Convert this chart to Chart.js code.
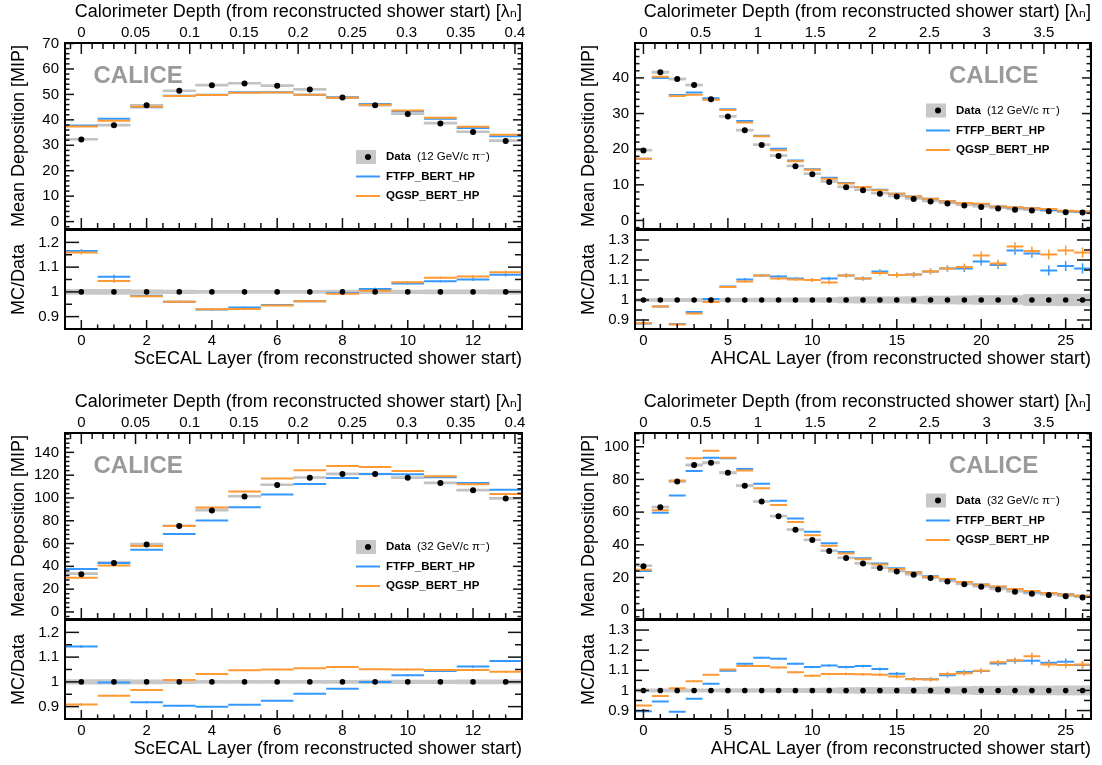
<!DOCTYPE html>
<html><head><meta charset="utf-8"><title>CALICE longitudinal profiles</title>
<script src="https://cdn.jsdelivr.net/npm/chart.js@4.4.1/dist/chart.umd.min.js"></script>
<style>
html,body{margin:0;padding:0;background:#fff;overflow:hidden;}
#root{position:relative;width:1102px;height:765px;overflow:hidden;background:#fff;}
canvas{position:absolute;display:block;}
</style></head><body><div id="root"></div>
<script>
// ---------------- data ----------------
const ecalLayers = [0,1,2,3,4,5,6,7,8,9,10,11,12,13];
const ahcalLayers = [0,1,2,3,4,5,6,7,8,9,10,11,12,13,14,15,16,17,18,19,20,21,22,23,24,25,26];

const ecalDepthTicks = [0,0.05,0.1,0.15,0.2,0.25,0.3,0.35,0.4];
const ahcalDepthTicks = [0,0.5,1,1.5,2,2.5,3,3.5];
const ecalLayerTicks = [0,2,4,6,8,10,12];
const ahcalLayerTicks = [0,5,10,15,20,25];
const ecal12YTicks = [0,10,20,30,40,50,60,70];
const ahcal12YTicks = [0,10,20,30,40];
const ecal32YTicks = [0,20,40,60,80,100,120,140];
const ahcal32YTicks = [0,20,40,60,80,100];
const ecalRatioTicks = [0.9,1,1.1,1.2];
const ahcalRatioTicks = [0.9,1,1.1,1.2,1.3];

// ScECAL, 12 GeV
const ecal12Data = [32.3, 37.9, 45.7, 51.4, 53.6, 54.3, 53.4, 51.9, 48.8, 45.7, 42.3, 38.6, 35.2, 31.7];
const ecal12Ftfp = [37.8, 40.4, 44.9, 49.5, 49.9, 50.8, 50.8, 49.9, 48.8, 46.2, 43.4, 40.4, 36.8, 33.6];
const ecal12Qgsp = [37.4, 39.6, 45.1, 49.4, 49.8, 50.6, 50.7, 49.9, 48.7, 45.9, 43.7, 40.8, 37.3, 34.1];
const ecal12RatioFtfp = [1.165, 1.061, 0.984, 0.960, 0.929, 0.937, 0.947, 0.962, 0.995, 1.012, 1.034, 1.043, 1.050, 1.069];
const ecal12RatioQgsp = [1.159, 1.044, 0.982, 0.960, 0.930, 0.931, 0.945, 0.962, 0.992, 1.005, 1.039, 1.057, 1.062, 1.079];
const ecal12RatioErr = [0.008, 0.008, 0.005, 0.004, 0.004, 0.004, 0.004, 0.004, 0.004, 0.005, 0.005, 0.005, 0.006, 0.007];
const ecal12Sys = [0.010, 0.010, 0.008, 0.007, 0.006, 0.006, 0.006, 0.006, 0.007, 0.007, 0.007, 0.008, 0.008, 0.009];

// AHCAL, 12 GeV
const ahcal12Data = [19.6, 41.6, 39.7, 38.0, 34.0, 29.2, 25.3, 21.2, 18.1, 15.2, 13.0, 10.8, 9.3, 8.5, 7.5, 6.7, 6.0, 5.3, 4.75, 4.2, 3.8, 3.35, 3.0, 2.8, 2.6, 2.3, 2.2];
const ahcal12Ftfp = [17.3, 40.0, 35.2, 35.9, 34.3, 31.2, 27.9, 23.8, 20.1, 16.8, 14.4, 12.0, 10.5, 9.4, 8.6, 7.5, 6.7, 6.1, 5.4, 4.9, 4.6, 3.9, 3.6, 3.4, 2.9, 2.6, 2.45];
const ahcal12Qgsp = [17.3, 40.3, 34.9, 35.3, 33.9, 31.0, 27.5, 23.6, 19.7, 16.6, 14.2, 11.7, 10.4, 9.4, 8.5, 7.5, 6.7, 6.1, 5.4, 4.9, 4.7, 3.9, 3.7, 3.4, 3.2, 2.7, 2.6];
const ahcal12RatioFtfp = [0.882, 0.967, 0.880, 0.940, 1.005, 1.067, 1.103, 1.123, 1.117, 1.107, 1.100, 1.107, 1.122, 1.107, 1.142, 1.125, 1.127, 1.143, 1.157, 1.157, 1.193, 1.175, 1.248, 1.233, 1.148, 1.170, 1.158];
const ahcal12RatioQgsp = [0.884, 0.968, 0.877, 0.932, 0.990, 1.065, 1.093, 1.123, 1.107, 1.103, 1.100, 1.088, 1.122, 1.107, 1.135, 1.125, 1.127, 1.143, 1.157, 1.165, 1.223, 1.182, 1.267, 1.245, 1.228, 1.247, 1.237];
const ahcal12RatioErr = [0.004, 0.004, 0.005, 0.005, 0.006, 0.006, 0.007, 0.007, 0.008, 0.008, 0.009, 0.009, 0.010, 0.010, 0.012, 0.012, 0.013, 0.014, 0.015, 0.017, 0.020, 0.020, 0.022, 0.022, 0.025, 0.025, 0.026];
const ahcal12Sys = [0.008, 0.008, 0.008, 0.008, 0.008, 0.009, 0.009, 0.010, 0.010, 0.011, 0.011, 0.012, 0.015, 0.016, 0.016, 0.016, 0.017, 0.020, 0.020, 0.021, 0.022, 0.022, 0.022, 0.028, 0.028, 0.029, 0.029];

// ScECAL, 32 GeV
const ecal32Data = [33.0, 42.9, 59.2, 75.3, 89.0, 101.2, 111.4, 117.8, 121.0, 121.0, 117.8, 113.2, 106.8, 99.5];
const ecal32Ftfp = [37.6, 42.9, 54.5, 68.3, 80.2, 91.9, 103.0, 112.3, 117.5, 121.0, 120.8, 118.1, 113.2, 107.3];
const ecal32Qgsp = [30.0, 40.8, 57.8, 75.5, 91.6, 105.6, 117.0, 124.3, 128.0, 127.2, 123.7, 119.0, 112.0, 103.5];
const ecal32RatioFtfp = [1.143, 0.997, 0.918, 0.904, 0.900, 0.908, 0.924, 0.952, 0.972, 1.000, 1.027, 1.044, 1.062, 1.084];
const ecal32RatioQgsp = [0.909, 0.944, 0.967, 1.008, 1.032, 1.047, 1.050, 1.055, 1.060, 1.051, 1.050, 1.048, 1.048, 1.041];
const ecal32RatioErr = [0.006, 0.005, 0.004, 0.003, 0.003, 0.003, 0.003, 0.003, 0.003, 0.003, 0.004, 0.004, 0.005, 0.005];
const ecal32Sys = [0.009, 0.009, 0.008, 0.007, 0.006, 0.006, 0.006, 0.006, 0.006, 0.007, 0.007, 0.007, 0.008, 0.008];

// AHCAL, 32 GeV
const ahcal32Data = [26.8, 63.0, 78.7, 88.8, 90.2, 84.1, 76.2, 66.5, 57.5, 49.2, 42.9, 36.2, 31.9, 28.5, 25.8, 23.6, 21.7, 19.7, 17.6, 15.8, 14.3, 12.7, 11.2, 10.0, 9.3, 8.5, 7.8];
const ahcal32Ftfp = [24.0, 59.6, 70.1, 85.2, 93.3, 92.9, 86.4, 77.4, 66.9, 56.1, 48.0, 40.9, 35.6, 31.7, 28.5, 25.6, 23.2, 20.7, 18.9, 17.3, 15.7, 14.4, 12.9, 11.5, 10.5, 9.7, 8.8];
const ahcal32Qgsp = [24.8, 61.2, 79.3, 92.9, 97.6, 93.3, 85.4, 74.6, 64.4, 53.9, 45.9, 39.4, 34.6, 31.1, 28.0, 25.2, 23.0, 20.5, 19.0, 17.2, 15.7, 14.5, 12.9, 11.7, 10.5, 9.6, 8.8];
const ahcal32RatioFtfp = [0.897, 0.945, 0.894, 0.959, 1.033, 1.098, 1.132, 1.162, 1.157, 1.132, 1.116, 1.124, 1.116, 1.121, 1.106, 1.083, 1.057, 1.056, 1.075, 1.091, 1.096, 1.134, 1.147, 1.147, 1.137, 1.142, 1.126];
const ahcal32RatioQgsp = [0.925, 0.972, 1.011, 1.046, 1.078, 1.104, 1.122, 1.121, 1.114, 1.090, 1.073, 1.082, 1.082, 1.080, 1.078, 1.069, 1.056, 1.054, 1.082, 1.085, 1.098, 1.140, 1.150, 1.170, 1.129, 1.126, 1.129];
const ahcal32RatioErr = [0.003, 0.003, 0.003, 0.003, 0.004, 0.004, 0.004, 0.005, 0.005, 0.005, 0.006, 0.006, 0.007, 0.007, 0.008, 0.008, 0.009, 0.010, 0.011, 0.012, 0.012, 0.013, 0.014, 0.018, 0.016, 0.017, 0.018];
const ahcal32Sys = [0.008, 0.008, 0.008, 0.008, 0.008, 0.009, 0.009, 0.009, 0.010, 0.010, 0.011, 0.012, 0.014, 0.015, 0.015, 0.015, 0.016, 0.017, 0.018, 0.019, 0.021, 0.021, 0.022, 0.022, 0.022, 0.023, 0.023];

// ---------------- style ----------------
const FONT = "'Liberation Sans', Arial, 'DejaVu Sans', sans-serif";
const BLUE = '#3399ff', ORANGE = '#ff9933', BAND = '#c8c8c8', BAND_MAIN = '#c2c2c2';
Chart.defaults.font.family = FONT;
Chart.defaults.color = '#000';

// ---------------- helpers (build library data from arrays) ----------------
function bins(layers, vals) {
  const pts = [];
  layers.forEach((x, i) => { pts.push({x: x - 0.5, y: vals[i]}, {x: x + 0.5, y: vals[i]}, {x: x + 0.5, y: null}); });
  return pts;
}
function errBars(layers, vals, e) {
  const pts = [];
  layers.forEach((x, i) => { pts.push({x: x, y: vals[i] - e[i]}, {x: x, y: vals[i] + e[i]}, {x: x, y: null}); });
  return pts;
}
function band(layers, centers, rel) {
  return layers.map((x, i) => ({x: x, y: [centers[i] * (1 - rel[i]), centers[i] * (1 + rel[i])]}));
}
function points(layers, vals) { return layers.map((x, i) => ({x: x, y: vals[i]})); }
function tickValues(min, max, step) {
  const out = [];
  for (let k = Math.ceil(min / step - 1e-9); k * step <= max + 1e-9; k++) out.push(+(k * step).toFixed(6));
  return out;
}

// ROOT-like frame, inward tick marks, legend and label
const rootFrame = {
  id: 'rootFrame',
  afterDatasetsDraw(chart, args, opts) {
    const ctx = chart.ctx, a = chart.chartArea;
    ctx.save();
    ctx.strokeStyle = '#111';
    ctx.lineWidth = 1.5;
    (opts.ticks || []).forEach(t => {
      const sc = chart.scales[t.scale];
      const done = new Set();
      t.levels.forEach(lv => {
        tickValues(sc.min, sc.max, lv.step).forEach(v => {
          const key = v.toFixed(4);
          if (done.has(key)) return;
          done.add(key);
          const px = sc.getPixelForValue(v);
          t.sides.forEach(side => {
            ctx.beginPath();
            if (side === 'bottom') { ctx.moveTo(px, a.bottom); ctx.lineTo(px, a.bottom - lv.len); }
            else if (side === 'top') { ctx.moveTo(px, a.top); ctx.lineTo(px, a.top + lv.len); }
            else if (side === 'left') { ctx.moveTo(a.left, px); ctx.lineTo(a.left + lv.len, px); }
            else { ctx.moveTo(a.right, px); ctx.lineTo(a.right - lv.len, px); }
            ctx.stroke();
          });
        });
      });
    });
    ctx.strokeStyle = '#000';
    ctx.lineWidth = 2;
    ctx.strokeRect(a.left, a.top, a.right - a.left, a.bottom - a.top);

    if (opts.calice) {
      ctx.font = 'bold 24px ' + FONT;
      ctx.fillStyle = '#9a9a9a';
      ctx.textBaseline = 'middle';
      ctx.textAlign = 'left';
      ctx.fillText('CALICE', a.left + opts.calice.dx, a.top + 33);
    }
    if (opts.legend) {
      const L = opts.legend;
      const lx = a.left + 291;
      const rows = L.rows.map(r => a.top + r);
      ctx.fillStyle = BAND;
      ctx.fillRect(lx, rows[0] - 7, 20, 14);
      ctx.fillStyle = '#000';
      ctx.beginPath(); ctx.arc(lx + 12, rows[0], 3, 0, Math.PI * 2); ctx.fill();
      ctx.lineWidth = 2;
      ctx.strokeStyle = BLUE;
      ctx.beginPath(); ctx.moveTo(lx, rows[1]); ctx.lineTo(lx + 24, rows[1]); ctx.stroke();
      ctx.strokeStyle = ORANGE;
      ctx.beginPath(); ctx.moveTo(lx, rows[2]); ctx.lineTo(lx + 24, rows[2]); ctx.stroke();
      ctx.textBaseline = 'middle';
      ctx.textAlign = 'left';
      ctx.fillStyle = '#000';
      ctx.font = 'bold 11.5px ' + FONT;
      ctx.fillText('Data', lx + 30, rows[0]);
      const w = ctx.measureText('Data').width;
      ctx.font = '11.5px ' + FONT;
      ctx.fillText(L.beam, lx + 30 + w + 6, rows[0]);
      ctx.font = 'bold 11.5px ' + FONT;
      ctx.fillText('FTFP_BERT_HP', lx + 30, rows[1]);
      ctx.fillText('QGSP_BERT_HP', lx + 30, rows[2]);
    }
    ctx.restore();
  }
};

const root = document.getElementById('root');
const AXW = 65, PADR = 12;
const NOGRID = {display: false, drawTicks: false};

function fixedTicks(values) { return s => { s.ticks = values.map(v => ({value: v})); }; }

function buildPanel(p) {
  const W = p.frameR - p.frameL;
  const N = p.layers.length;
  const cw = AXW + W + PADR;
  const mk = (top, h) => {
    const c = document.createElement('canvas');
    c.width = cw; c.height = h;
    c.style.left = (p.frameL - AXW) + 'px'; c.style.top = top + 'px';
    c.style.width = cw + 'px'; c.style.height = h + 'px';
    root.appendChild(c);
    return c;
  };
  const mainC = mk(p.oy, 229);
  const ratioC = mk(p.oy + 229, 146);
  const ones = p.layers.map(() => 1);
  const base = {
    responsive: false, animation: false, devicePixelRatio: 1, events: [],
    plugins: {legend: {display: false}, tooltip: {enabled: false}}
  };

  new Chart(mainC, {
    type: 'scatter',
    plugins: [rootFrame],
    data: {datasets: [
      {type: 'scatter', data: points(p.layers, p.data), pointRadius: 3, pointBackgroundColor: '#000', pointBorderWidth: 0, order: 0},
      {type: 'line', data: bins(p.layers, p.qgsp), borderColor: ORANGE, borderWidth: 2, pointRadius: 0, spanGaps: false, tension: 0, order: 1},
      {type: 'line', data: bins(p.layers, p.ftfp), borderColor: BLUE, borderWidth: 2, pointRadius: 0, spanGaps: false, tension: 0, order: 2},
      {type: 'bar', data: band(p.layers, p.data, p.sys), backgroundColor: BAND_MAIN, barPercentage: 1, categoryPercentage: 1, minBarLength: 2, grouped: false, order: 3}
    ]},
    options: Object.assign({}, base, {
      layout: {padding: {left: 0, right: PADR, top: 0, bottom: 0}, autoPadding: false},
      plugins: Object.assign({}, base.plugins, {rootFrame: {
        ticks: [
          {scale: 'x', sides: ['bottom'], levels: p.mainXLevels},
          {scale: 'x2', sides: ['top'], levels: p.depthLevels},
          {scale: 'y', sides: ['left', 'right'], levels: p.mainYLevels}
        ],
        calice: {dx: p.caliceDx},
        legend: {rows: p.legendRows, beam: p.beam}
      }}),
      scales: {
        x: {type: 'linear', min: -0.5, max: N - 0.5, display: false, offset: false},
        x2: {type: 'linear', position: 'top', min: -0.5 * p.depthPerLayer, max: (N - 0.5) * p.depthPerLayer,
          grid: NOGRID, border: {display: false},
          ticks: {font: {size: 15}, padding: 1, autoSkip: false, maxRotation: 0, callback: v => String(v)},
          afterBuildTicks: fixedTicks(p.depthTicks),
          afterFit: s => { s.height = 43; s.paddingLeft = 0; s.paddingRight = 0; },
          title: {display: true, text: 'Calorimeter Depth (from reconstructed shower start) [λₙ]', align: 'end', font: {size: 18}, padding: {top: 1.5, bottom: 0}}},
        y: {type: 'linear', position: 'left', min: p.yMin, max: p.yMax,
          grid: NOGRID, border: {display: false},
          ticks: {font: {size: 15}, padding: 6, autoSkip: false, callback: v => String(v)},
          afterBuildTicks: fixedTicks(p.yTicks),
          afterFit: s => { s.width = AXW; s.paddingTop = 0; s.paddingBottom = 0; },
          title: {display: true, text: 'Mean Deposition [MIP]', font: {size: 18}, padding: {top: 8, bottom: 0}}}
      }
    })
  });

  new Chart(ratioC, {
    type: 'scatter',
    plugins: [rootFrame],
    data: {datasets: [
      {type: 'scatter', data: points(p.layers, ones), pointRadius: 2.8, pointBackgroundColor: '#000', pointBorderWidth: 0, order: 0},
      {type: 'line', data: bins(p.layers, p.rQgsp), borderColor: ORANGE, borderWidth: 2, pointRadius: 0, spanGaps: false, tension: 0, order: 1},
      {type: 'line', data: errBars(p.layers, p.rQgsp, p.rErr), borderColor: ORANGE, borderWidth: 1.5, pointRadius: 0, spanGaps: false, tension: 0, order: 1},
      {type: 'line', data: bins(p.layers, p.rFtfp), borderColor: BLUE, borderWidth: 2, pointRadius: 0, spanGaps: false, tension: 0, order: 2},
      {type: 'line', data: errBars(p.layers, p.rFtfp, p.rErr), borderColor: BLUE, borderWidth: 1.5, pointRadius: 0, spanGaps: false, tension: 0, order: 2},
      {type: 'bar', data: band(p.layers, ones, p.sys), backgroundColor: BAND, barPercentage: 1, categoryPercentage: 1, grouped: false, order: 3}
    ]},
    options: Object.assign({}, base, {
      layout: {padding: {left: 0, right: PADR, top: 1, bottom: 0}, autoPadding: false},
      plugins: Object.assign({}, base.plugins, {rootFrame: {
        ticks: [
          {scale: 'x', sides: ['bottom'], levels: p.ratioXLevels},
          {scale: 'y', sides: ['left', 'right'], levels: [{step: 0.1, len: 14}, {step: 0.05, len: 7}]}
        ]
      }}),
      scales: {
        x: {type: 'linear', position: 'bottom', min: -0.5, max: N - 0.5, offset: false,
          grid: NOGRID, border: {display: false},
          ticks: {font: {size: 15}, padding: 3, autoSkip: false, maxRotation: 0, callback: v => String(v)},
          afterBuildTicks: fixedTicks(p.layerTicks),
          afterFit: s => { s.height = 46; s.paddingLeft = 0; s.paddingRight = 0; },
          title: {display: true, text: p.xTitle, align: 'end', font: {size: 18}, padding: {top: 0, bottom: 5}}},
        y: {type: 'linear', position: 'left', min: p.rMin, max: p.rMax,
          grid: NOGRID, border: {display: false},
          ticks: {font: {size: 15}, padding: 6, autoSkip: false, callback: v => String(v)},
          afterBuildTicks: fixedTicks(p.rTicks),
          afterFit: s => { s.width = AXW; s.paddingTop = 0; s.paddingBottom = 0; },
          title: {display: true, text: 'MC/Data', font: {size: 18}, padding: {top: 8, bottom: 0}}}
      }
    })
  });
}

const ecalCommon = {
  frameL: 65, frameR: 522, layers: ecalLayers, depthPerLayer: 0.03011,
  depthTicks: ecalDepthTicks, layerTicks: ecalLayerTicks, rTicks: ecalRatioTicks,
  depthLevels: [{step: 0.05, len: 11}, {step: 0.01, len: 6}],
  mainXLevels: [{step: 2, len: 11}, {step: 0.5, len: 6}],
  ratioXLevels: [{step: 2, len: 9}, {step: 0.5, len: 4.5}],
  xTitle: 'ScECAL Layer (from reconstructed shower start)',
  caliceDx: 28.5, legendRows: [114, 133.5, 153]
};
const ahcalCommon = {
  frameL: 635, frameR: 1091, layers: ahcalLayers, depthPerLayer: 0.1476,
  depthTicks: ahcalDepthTicks, layerTicks: ahcalLayerTicks, rTicks: ahcalRatioTicks,
  depthLevels: [{step: 0.5, len: 11}, {step: 0.1, len: 6}],
  mainXLevels: [{step: 5, len: 11}, {step: 1, len: 6}],
  ratioXLevels: [{step: 5, len: 10}, {step: 1, len: 5}],
  xTitle: 'AHCAL Layer (from reconstructed shower start)',
  caliceDx: 314, legendRows: [67.5, 87.5, 107]
};

buildPanel(Object.assign({}, ecalCommon, {
  oy: 0, yMin: -2.9, yMax: 70.2, yTicks: ecal12YTicks, mainYLevels: [{step: 10, len: 9}, {step: 2, len: 4.5}],
  rMin: 0.85, rMax: 1.25, beam: '(12 GeV/c π⁻)',
  data: ecal12Data, ftfp: ecal12Ftfp, qgsp: ecal12Qgsp, rFtfp: ecal12RatioFtfp, rQgsp: ecal12RatioQgsp, rErr: ecal12RatioErr, sys: ecal12Sys
}));
buildPanel(Object.assign({}, ahcalCommon, {
  oy: 0, yMin: -2.4, yMax: 49.8, yTicks: ahcal12YTicks, mainYLevels: [{step: 10, len: 9}, {step: 2, len: 4.5}],
  rMin: 0.855, rMax: 1.35, beam: '(12 GeV/c π⁻)',
  data: ahcal12Data, ftfp: ahcal12Ftfp, qgsp: ahcal12Qgsp, rFtfp: ahcal12RatioFtfp, rQgsp: ahcal12RatioQgsp, rErr: ahcal12RatioErr, sys: ahcal12Sys
}));
buildPanel(Object.assign({}, ecalCommon, {
  oy: 390, yMin: -6.2, yMax: 157, yTicks: ecal32YTicks, mainYLevels: [{step: 20, len: 9}, {step: 4, len: 4.5}],
  rMin: 0.85, rMax: 1.25, beam: '(32 GeV/c π⁻)',
  data: ecal32Data, ftfp: ecal32Ftfp, qgsp: ecal32Qgsp, rFtfp: ecal32RatioFtfp, rQgsp: ecal32RatioQgsp, rErr: ecal32RatioErr, sys: ecal32Sys
}));
buildPanel(Object.assign({}, ahcalCommon, {
  oy: 390, yMin: -5.4, yMax: 108.4, yTicks: ahcal32YTicks, mainYLevels: [{step: 20, len: 9}, {step: 4, len: 4.5}],
  rMin: 0.858, rMax: 1.35, beam: '(32 GeV/c π⁻)',
  data: ahcal32Data, ftfp: ahcal32Ftfp, qgsp: ahcal32Qgsp, rFtfp: ahcal32RatioFtfp, rQgsp: ahcal32RatioQgsp, rErr: ahcal32RatioErr, sys: ahcal32Sys
}));
</script></body></html>
